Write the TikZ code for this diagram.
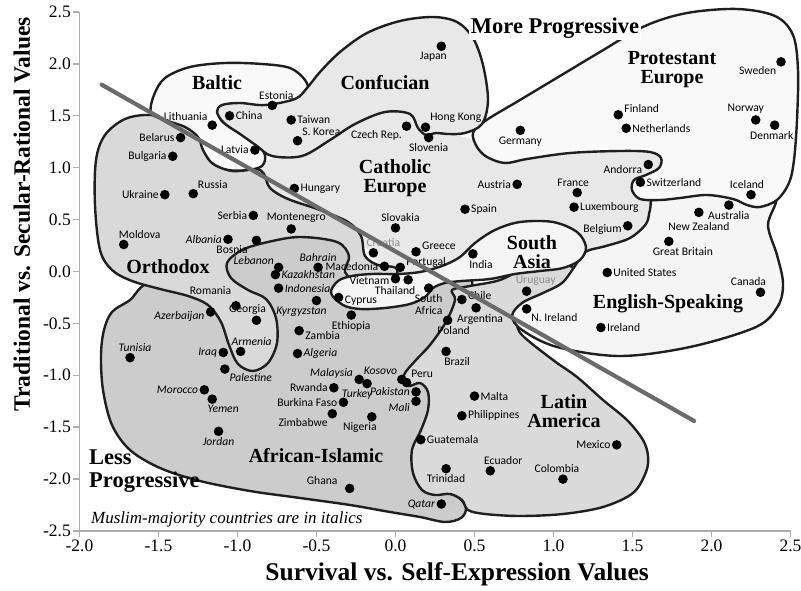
\documentclass[tikz,border=0pt]{standalone}
\usepackage{fontspec}
\setmainfont{Liberation Serif}
\newfontfamily\ctyfont{Carlito}
\newcommand\ctysize{\fontsize{11.6}{12.5}\selectfont}
\usepackage{xcolor}
\usetikzlibrary{positioning}

\definecolor{cathgray}{gray}{0.91}
\definecolor{confgray}{gray}{0.91}
\definecolor{protgray}{gray}{0.975}
\definecolor{baltgray}{gray}{0.975}
\definecolor{englgray}{gray}{0.96}
\definecolor{sasiagray}{gray}{0.96}
\definecolor{orthgray}{gray}{0.85}
\definecolor{afisgray}{gray}{0.80}
\definecolor{latamgray}{gray}{0.855}
\definecolor{trendgray}{gray}{0.42}
\definecolor{axisgray}{gray}{0.68}

\begin{document}
\begin{tikzpicture}[
x=158pt, y=103.8pt,
dot/.style={circle, fill=black, inner sep=0pt, minimum size=9.6pt, label distance=0.5pt},
cty/.style={font=\ctyfont\ctysize, inner sep=1pt},
mus/.style={font=\ctyfont\ctysize\itshape, inner sep=1pt},
pale/.style={cty, text=black!45},
zonetitle/.style={font=\bfseries\fontsize{20}{19}\selectfont, align=center, inner sep=0pt},
zone/.style={draw=black!88, line width=2.4pt, line join=round},
axis/.style={draw=axisgray, line width=1.4pt},
ticklabel/.style={font=\fontsize{17.5}{18}\selectfont, inner sep=2pt},
]
\useasboundingbox[fill=white] (-395.5pt,-319.5pt) rectangle (405.5pt,271.5pt);

% culture zones, traced in pixels from the top left corner
\begin{scope}[shift={(-395.5pt,271.5pt)}, x=1pt, y=-1pt]
\fill[cathgray] plot[smooth cycle, tension=0.6] coordinates {(262,165) (300,150) (355,122) (410,110) (440,130) (475,140) (520,155) (600,150) (650,150) (665,165) (660,205) (650,230) (610,250) (585,255) (560,230) (520,232) (470,258) (420,276) (392,276) (358,240) (320,214) (280,198)};
\filldraw[zone, fill=afisgray] plot[smooth cycle, tension=0.55] coordinates {(104,330) (112,312) (130,300) (150,283) (200,292) (222,270) (236,244) (270,233) (305,229) (342,233) (356,250) (356,268) (380,282) (420,281) (445,276) (470,276) (470,300) (455,325) (430,360) (432,400) (428,430) (420,480) (440,490) (458,497) (466,508) (461,518) (445,522) (420,517) (390,512) (350,505) (300,498) (250,491) (200,481) (160,468) (130,450) (112,425) (103,390) (101,355)};
\filldraw[zone, fill=latamgray] plot[smooth cycle, tension=0.55] coordinates {(452,290) (470,286) (500,280) (530,266) (560,264) (576,270) (572,285) (550,300) (528,310) (518,322) (522,335) (553,360) (577,377) (603,400) (627,420) (643,440) (648,456) (646,472) (633,493) (603,507) (563,514) (520,516) (485,514) (468,510) (462,500) (450,494) (435,495) (422,490) (413,473) (412,450) (421,430) (428,410) (428,392) (420,383) (408,386) (404,375) (416,360) (430,345) (446,322) (455,300)};
\filldraw[zone, fill=orthgray] plot[smooth cycle, tension=0.55] coordinates {(96,160) (105,135) (125,119) (150,115) (178,121) (196,131) (203,146) (211,162) (232,171) (256,169) (264,174) (270,188) (288,199) (320,210) (348,222) (361,236) (365,256) (378,265) (396,268) (393,280) (360,282) (345,272) (349,256) (337,242) (300,237) (268,242) (242,250) (227,263) (231,278) (248,290) (266,299) (276,318) (277,343) (268,363) (253,371) (238,364) (229,345) (221,322) (208,305) (188,296) (160,289) (132,281) (112,270) (100,250) (95,205)};
\filldraw[zone, fill=englgray] plot[smooth cycle, tension=0.55] coordinates {(585,252) (606,246) (630,238) (646,224) (650,210) (656,196) (700,192) (750,197) (776,198) (768,225) (777,255) (783,283) (778,306) (756,327) (690,347) (620,356) (557,347) (522,330) (512,316) (522,303) (543,293) (562,283) (575,266)};
\filldraw[zone, fill=sasiagray] plot[smooth cycle, tension=0.55] coordinates {(331,293) (338,281) (352,276) (372,274) (398,274) (420,272) (442,266) (460,257) (475,243) (495,230) (520,222) (553,222) (577,232) (586,247) (580,260) (563,268) (540,271) (515,274) (490,279) (462,281) (445,283) (433,288) (425,297) (410,304) (385,308) (360,309) (343,305)};
\filldraw[zone, fill=protgray] plot[smooth cycle, tension=0.55] coordinates {(473,133) (485,121) (520,100) (560,76) (600,52) (645,26) (687,13) (737,9) (775,16) (793,35) (798,70) (797,120) (794,160) (789,183) (777,200) (760,207) (747,205) (733,199) (707,195) (680,198) (660,200) (640,199) (632,190) (634,180) (646,175) (659,168) (661,158) (650,152) (620,151) (570,153) (527,159) (505,163) (487,157) (477,147)};
\filldraw[zone, fill=baltgray] plot[smooth cycle, tension=0.55] coordinates {(151,113) (154,95) (165,78) (190,67) (225,63) (262,64) (290,68) (305,80) (308,92) (295,100) (262,106) (235,104) (220,108) (221,120) (238,132) (256,143) (265,155) (262,166) (248,170) (228,170) (212,163) (203,150) (198,137) (185,127) (165,120)};
\filldraw[zone, fill=confgray] plot[smooth cycle, tension=0.55] coordinates {(217,112) (222,105) (240,103) (265,105) (295,99) (307,88) (320,72) (340,52) (367,33) (400,21) (433,17) (457,22) (473,38) (483,65) (488,100) (482,124) (465,133) (448,134) (436,133) (426,135) (418,128) (410,114) (385,112) (355,124) (330,140) (302,156) (272,156) (257,146) (240,134) (224,123)};
\end{scope}

% axes
\draw[axis] (-2,2.5) -- (-2,-2.5) -- (2.5,-2.5);
\foreach \v in {-2.0,-1.5,-1.0,-0.5,0.0,0.5,1.0,1.5,2.0,2.5}
  \draw[axis] (\v,-2.5) -- ++(0,-6pt) node[below, ticklabel, text=black] {\v};
\foreach \v in {-2.5,-2.0,-1.5,-1.0,-0.5,0.0,0.5,1.0,1.5,2.0,2.5}
  \draw[axis] (-2,\v) -- ++(-6pt,0) node[left, ticklabel, text=black] {\v};
\node[rotate=90, font=\bfseries\fontsize{23.5}{24}\selectfont] (ytitle) at (-2.365,0.55) {Traditional vs. Secular-Rational Values};
\node[font=\bfseries\fontsize{25.5}{26}\selectfont] (xtitle) at (0.39,-2.915) {Survival vs. Self-Expression Values};

% countries
\node[dot, label={[cty,xshift=4pt]above:Estonia}] (estonia) at (-0.78,1.60) {};
\node[dot, label={[cty]right:China}] (china) at (-1.05,1.50) {};
\node[dot, label={[cty]135:Lithuania}] (lithuania) at (-1.16,1.41) {};
\node[dot, label={[cty]right:Taiwan}] (taiwan) at (-0.66,1.46) {};
\node[dot, label={[cty]above right:S. Korea}] (skorea) at (-0.62,1.26) {};
\node[dot, label={[cty]left:Belarus}] (belarus) at (-1.36,1.29) {};
\node[dot, label={[cty]left:Bulgaria}] (bulgaria) at (-1.41,1.11) {};
\node[dot, label={[cty]left:Latvia}] (latvia) at (-0.89,1.17) {};
\node[dot, label={[cty]left:Ukraine}] (ukraine) at (-1.46,0.74) {};
\node[dot, label={[cty]above right:Russia}] (russia) at (-1.28,0.75) {};
\node[dot, label={[cty]right:Hungary}] (hungary) at (-0.64,0.80) {};
\node[dot, label={[cty,xshift=-8pt]below:Japan}] (japan) at (0.29,2.17) {};
\node[dot, label={[cty]below left:Czech Rep.}] (czech) at (0.07,1.40) {};
\node[dot, label={[cty]above right:Hong Kong}] (hongkong) at (0.19,1.39) {};
\node[dot, label={[cty]below:Slovenia}] (slovenia) at (0.21,1.29) {};
\node[dot, label={[cty]below:Germany}] (germany) at (0.79,1.36) {};
\node[dot, label={[cty]left:Austria}] (austria) at (0.77,0.84) {};
\node[dot, label={[cty]below left:Sweden}] (sweden) at (2.44,2.02) {};
\node[dot, label={[cty,yshift=6pt]right:Finland}] (finland) at (1.41,1.51) {};
\node[dot, label={[cty]right:Netherlands}] (netherlands) at (1.46,1.38) {};
\node[dot, label={[cty,xshift=-10pt]above:Norway}] (norway) at (2.28,1.46) {};
\node[dot, label={[cty,xshift=-3pt]below:Denmark}] (denmark) at (2.40,1.41) {};
\node[dot, label={[cty,yshift=-5pt]left:Andorra}] (andorra) at (1.60,1.03) {};
\node[dot, label={[cty]right:Switzerland}] (switzerland) at (1.55,0.86) {};
\node[dot, label={[cty,xshift=-4pt]above:France}] (france) at (1.15,0.76) {};
\node[dot, label={[cty,xshift=-4pt]above:Iceland}] (iceland) at (2.25,0.74) {};
\node[dot, label={[cty]left:Serbia}] (serbia) at (-0.90,0.54) {};
\node[dot, label={[cty,xshift=5pt]above:Montenegro}] (montenegro) at (-0.66,0.41) {};
\node[dot, label={[cty,xshift=16pt]above:Moldova}] (moldova) at (-1.72,0.26) {};
\node[dot, label={[mus]left:Albania}] (albania) at (-1.06,0.31) {};
\node[dot, label={[cty,xshift=-4pt]below left:Bosnia}] (bosnia) at (-0.88,0.30) {};
\node[dot, label={[mus,yshift=-2pt]above left:Lebanon}] (lebanon) at (-0.74,0.04) {};
\node[dot, label={[mus]right:Kazakhstan}] (kazakhstan) at (-0.76,-0.03) {};
\node[dot, label={[mus]above:Bahrain}] (bahrain) at (-0.49,0.04) {};
\node[dot, label={[mus]right:Indonesia}] (indonesia) at (-0.74,-0.16) {};
\node[dot, label={[cty,yshift=6pt]above left:Romania}] (romania) at (-1.01,-0.33) {};
\node[dot, label={[mus,xshift=-15pt]below:Kyrgyzstan}] (kyrgyzstan) at (-0.50,-0.28) {};
\node[dot, label={[mus,yshift=-4pt]left:Azerbaijan}] (azerbaijan) at (-1.17,-0.39) {};
\node[dot, label={[cty,xshift=-9pt]above:Georgia}] (georgia) at (-0.88,-0.47) {};
\node[dot, label={[mus,xshift=11pt]above:Armenia}] (armenia) at (-0.98,-0.77) {};
\node[dot, label={[cty,yshift=-5pt]right:Zambia}] (zambia) at (-0.61,-0.57) {};
\node[dot, label={[mus,xshift=5pt]above:Tunisia}] (tunisia) at (-1.68,-0.83) {};
\node[dot, label={[mus]left:Iraq}] (iraq) at (-1.09,-0.78) {};
\node[dot, label={[mus]right:Algeria}] (algeria) at (-0.62,-0.79) {};
\node[dot, label={[mus]below right:Palestine}] (palestine) at (-1.08,-0.94) {};
\node[dot, label={[cty,xshift=5pt]above:Slovakia}] (slovakia) at (0.00,0.42) {};
\node[dot, label={[cty]right:Spain}] (spain) at (0.44,0.60) {};
\node[dot, label={[pale,xshift=10pt]above:Croatia}] (croatia) at (-0.14,0.18) {};
\node[dot, label={[cty,yshift=6pt]right:Greece}] (greece) at (0.13,0.19) {};
\node[dot, label={[cty]left:Macedonia}] (macedonia) at (-0.07,0.05) {};
\node[dot, label={[cty,yshift=5pt]right:Portugal}] (portugal) at (0.03,0.04) {};
\node[dot, label={[cty,yshift=-2pt]left:Vietnam}] (vietnam) at (0.00,-0.07) {};
\node[dot, label={[cty,xshift=-13pt]below:Thailand}] (thailand) at (0.08,-0.08) {};
\node[dot, label={[cty,xshift=8pt]below:India}] (india) at (0.49,0.17) {};
\node[dot, label={[cty,align=center]below:South\\Africa}] (safrica) at (0.21,-0.16) {};
\node[dot, label={[cty,yshift=-3pt]right:Cyprus}] (cyprus) at (-0.36,-0.25) {};
\node[dot, label={[cty]below:Ethiopia}] (ethiopia) at (-0.28,-0.42) {};
\node[dot, label={[cty,yshift=4pt]right:Chile}] (chile) at (0.42,-0.27) {};
\node[dot, label={[cty,xshift=4pt]below:Argentina}] (argentina) at (0.51,-0.35) {};
\node[dot, label={[cty,xshift=6pt]below:Poland}] (poland) at (0.33,-0.47) {};
\node[dot, label={[cty,xshift=11pt]below:Brazil}] (brazil) at (0.32,-0.77) {};
\node[dot, label={[cty]right:Luxembourg}] (luxembourg) at (1.13,0.62) {};
\node[dot, label={[cty,yshift=-4pt]left:Belgium}] (belgium) at (1.47,0.44) {};
\node[dot, label={[cty]below:Australia}] (australia) at (2.11,0.64) {};
\node[dot, label={[cty,yshift=-4pt]below:New Zealand}] (newzealand) at (1.92,0.57) {};
\node[dot, label={[cty,xshift=14pt]below:Great Britain}] (britain) at (1.73,0.29) {};
\node[dot, label={[cty]right:United States}] (usa) at (1.34,-0.01) {};
\node[dot, label={[cty,xshift=-12pt]above:Canada}] (canada) at (2.31,-0.20) {};
\node[dot, label={[pale,xshift=9pt]above:Uruguay}] (uruguay) at (0.83,-0.19) {};
\node[dot, label={[cty]below right:N. Ireland}] (nireland) at (0.83,-0.36) {};
\node[dot, label={[cty]right:Ireland}] (ireland) at (1.30,-0.54) {};
\node[dot, label={[mus]left:Morocco}] (morocco) at (-1.21,-1.14) {};
\node[dot, label={[mus,xshift=11pt]below:Yemen}] (yemen) at (-1.16,-1.23) {};
\node[dot, label={[mus]below:Jordan}] (jordan) at (-1.12,-1.54) {};
\node[dot, label={[cty]left:Rwanda}] (rwanda) at (-0.39,-1.12) {};
\node[dot, label={[mus,yshift=6pt]left:Malaysia}] (malaysia) at (-0.23,-1.04) {};
\node[dot, label={[mus,xshift=-10pt]below:Turkey}] (turkey) at (-0.18,-1.08) {};
\node[dot, label={[mus]above left:Kosovo}] (kosovo) at (0.04,-1.04) {};
\node[dot, label={[cty]above right:Peru}] (peru) at (0.07,-1.07) {};
\node[dot, label={[mus]left:Pakistan}] (pakistan) at (0.13,-1.16) {};
\node[dot, label={[mus,yshift=-6pt]left:Mali}] (mali) at (0.13,-1.25) {};
\node[dot, label={[cty]left:Burkina Faso}] (burkina) at (-0.33,-1.26) {};
\node[dot, label={[cty]below left:Zimbabwe}] (zimbabwe) at (-0.40,-1.37) {};
\node[dot, label={[cty,xshift=-12pt]below:Nigeria}] (nigeria) at (-0.15,-1.40) {};
\node[dot, label={[cty,xshift=-6pt,yshift=8pt]left:Ghana}] (ghana) at (-0.29,-2.09) {};
\node[dot, label={[mus]left:Qatar}] (qatar) at (0.29,-2.24) {};
\node[dot, label={[cty]below:Trinidad}] (trinidad) at (0.32,-1.90) {};
\node[dot, label={[cty]right:Guatemala}] (guatemala) at (0.16,-1.62) {};
\node[dot, label={[cty,xshift=13pt]above:Ecuador}] (ecuador) at (0.60,-1.92) {};
\node[dot, label={[cty]right:Malta}] (malta) at (0.50,-1.20) {};
\node[dot, label={[cty]right:Philippines}] (philippines) at (0.42,-1.39) {};
\node[dot, label={[cty]left:Mexico}] (mexico) at (1.40,-1.67) {};
\node[dot, label={[cty,xshift=-6pt]above:Colombia}] (colombia) at (1.06,-2.00) {};

% zone names
\begin{scope}[shift={(-395.5pt,271.5pt)}, x=1pt, y=-1pt]
\node[zonetitle] (baltic) at (217,83) {Baltic};
\node[zonetitle] (confucian) at (385,83) {Confucian};
\node[zonetitle] (protestant) at (672,70) {Protestant\\Europe};
\node[zonetitle] (catholic) at (395,178) {Catholic\\Europe};
\node[zonetitle] (orthodox) at (168,267) {Orthodox};
\node[zonetitle] (southasia) at (532,252) {South\\Asia};
\node[zonetitle] (english) at (668,304) {English-Speaking};
\node[zonetitle] (african) at (316,456) {African-Islamic};
\node[zonetitle] (latin) at (564,411) {Latin\\America};
\node[font=\bfseries\fontsize{22.5}{23}\selectfont, fill=white, inner sep=2pt] (moreprog) at (555,28) {More Progressive};
\node[font=\bfseries\fontsize{22.5}{23}\selectfont, align=left, anchor=west, inner sep=0pt] (lessprog) at (89,471) {Less\\Progressive};
\node[font=\itshape\fontsize{17}{17}\selectfont, anchor=west, inner sep=0pt] (note) at (91,519) {Muslim-majority countries are in italics};
\end{scope}

% trend line
\coordinate (trendtop) at (-1.86,1.80);
\coordinate (trendend) at (1.89,-1.44);
\draw[trendgray, line width=4.2pt, line cap=round] (trendtop) -- (trendend);
\end{tikzpicture}
\end{document}
